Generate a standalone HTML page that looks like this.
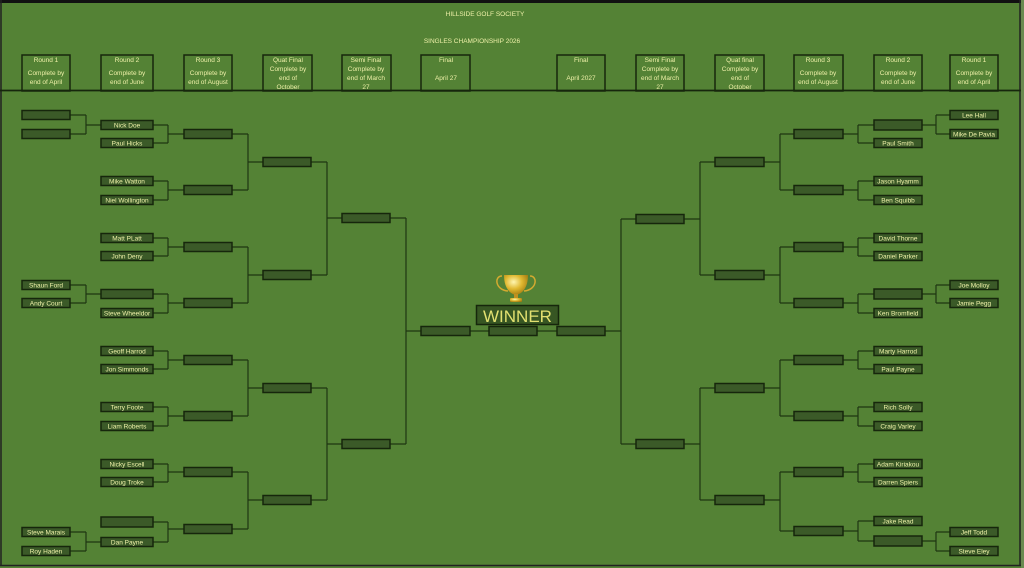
<!DOCTYPE html>
<html><head><meta charset="utf-8"><style>
html,body{margin:0;padding:0;background:#548235;}
svg{display:block;}
text{font-family:"Liberation Sans",sans-serif;fill:#eef0a8;}
.s{fill:#3b5a28;stroke:#16260c;stroke-width:1.5;}
.c{fill:none;stroke:#1e3512;stroke-width:1.2;}
.h{fill:#548235;stroke:#16260c;stroke-width:1.5;}
.t{font-size:6.5px;text-anchor:middle;}
.ht{font-size:6.5px;text-anchor:middle;}
</style></head><body>
<svg width="1024" height="568" viewBox="0 0 1024 568" xmlns="http://www.w3.org/2000/svg">
<rect x="0" y="0" width="1024" height="568" fill="#548235"/>
<rect x="0" y="0" width="1024" height="3" fill="#111"/>
<line x1="1" y1="0" x2="1" y2="566" stroke="#222" stroke-width="1.5"/>
<line x1="1020" y1="0" x2="1020" y2="566" stroke="#222" stroke-width="1.5"/>
<rect x="1021" y="0" width="3" height="568" fill="#6a8a50"/>
<line x1="0" y1="565.5" x2="1021" y2="565.5" stroke="#222" stroke-width="1.5"/>
<text class="ht" x="485" y="16">HILLSIDE GOLF SOCIETY</text>
<text class="ht" x="472" y="43">SINGLES CHAMPIONSHIP 2026</text>

<!-- header boxes -->
<g>
<rect class="h" x="22" y="55" width="48" height="36"/>
<text class="ht" x="46" y="62">Round 1</text><text class="ht" x="46" y="75">Complete by</text><text class="ht" x="46" y="84">end of April</text>
<rect class="h" x="101" y="55" width="52" height="36"/>
<text class="ht" x="127" y="62">Round 2</text><text class="ht" x="127" y="75">Complete by</text><text class="ht" x="127" y="84">end of June</text>
<rect class="h" x="184" y="55" width="48" height="36"/>
<text class="ht" x="208" y="62">Round 3</text><text class="ht" x="208" y="75">Complete by</text><text class="ht" x="208" y="84">end of August</text>
<rect class="h" x="263" y="55" width="49" height="36"/>
<text class="ht" x="288" y="62">Quat Final</text><text class="ht" x="288" y="71">Complete by</text><text class="ht" x="288" y="80">end of</text><text class="ht" x="288" y="89">October</text>
<rect class="h" x="342" y="55" width="49" height="36"/>
<text class="ht" x="366" y="62">Semi Final</text><text class="ht" x="366" y="71">Complete by</text><text class="ht" x="366" y="80">end of March</text><text class="ht" x="366" y="89">27</text>
<rect class="h" x="421" y="55" width="49" height="36"/>
<text class="ht" x="446" y="62">Final</text><text class="ht" x="446" y="80">April 27</text>
<rect class="h" x="557" y="55" width="48" height="36"/>
<text class="ht" x="581" y="62">Final</text><text class="ht" x="581" y="80">April 2027</text>
<rect class="h" x="636" y="55" width="48" height="36"/>
<text class="ht" x="660" y="62">Semi Final</text><text class="ht" x="660" y="71">Complete by</text><text class="ht" x="660" y="80">end of March</text><text class="ht" x="660" y="89">27</text>
<rect class="h" x="715" y="55" width="49" height="36"/>
<text class="ht" x="740" y="62">Quat final</text><text class="ht" x="740" y="71">Complete by</text><text class="ht" x="740" y="80">end of</text><text class="ht" x="740" y="89">October</text>
<rect class="h" x="794" y="55" width="49" height="36"/>
<text class="ht" x="818" y="62">Round 3</text><text class="ht" x="818" y="75">Complete by</text><text class="ht" x="818" y="84">end of August</text>
<rect class="h" x="874" y="55" width="48" height="36"/>
<text class="ht" x="898" y="62">Round 2</text><text class="ht" x="898" y="75">Complete by</text><text class="ht" x="898" y="84">end of June</text>
<rect class="h" x="950" y="55" width="48" height="36"/>
<text class="ht" x="974" y="62">Round 1</text><text class="ht" x="974" y="75">Complete by</text><text class="ht" x="974" y="84">end of April</text>
</g>
<line x1="0" y1="90.5" x2="1021" y2="90.5" stroke="#16260c" stroke-width="1.8"/>

<!-- connectors left -->
<path class="c" d="
M70 115H86M70 134H86M86 115V134M86 125H101
M70 285H86M70 303H86M86 285V303M86 294H101
M70 532H86M70 551H86M86 532V551M86 542H101
M152 125H168M152 143H168M168 125V143M168 134H184
M152 181H168M152 200H168M168 181V200M168 190H184
M152 238H168M152 256H168M168 238V256M168 247H184
M152 294H168M152 313H168M168 294V313M168 303H184
M152 351H168M152 369H168M168 351V369M168 360H184
M152 407H168M152 426H168M168 407V426M168 416H184
M152 464H168M152 482H168M168 464V482M168 472H184
M152 522H168M152 542H168M168 522V542M168 529H184
M232 134H248M232 190H248M248 134V190M248 162H263
M232 247H248M232 303H248M248 247V303M248 275H263
M232 360H248M232 416H248M248 360V416M248 388H263
M232 472H248M232 529H248M248 472V529M248 500H263
M311 162H327M311 275H327M327 162V275M327 218H342
M311 388H327M311 500H327M327 388V500M327 444H342
M390 218H406M390 444H406M406 218V444M406 331H421
M470 331H489M537 331H557
M950 115H936M950 134H936M936 115V134M936 125H922
M950 285H936M950 303H936M936 285V303M936 294H922
M950 532H936M950 551H936M936 532V551M936 541H922
M874 125H858M874 143H858M858 125V143M858 134H843
M874 181H858M874 200H858M858 181V200M858 190H843
M874 238H858M874 256H858M858 238V256M858 247H843
M874 294H858M874 313H858M858 294V313M858 303H843
M874 351H858M874 369H858M858 351V369M858 360H843
M874 407H858M874 426H858M858 407V426M858 416H843
M874 464H858M874 482H858M858 464V482M858 472H843
M874 521H858M874 541H858M858 521V541M858 531H843
M794 134H780M794 190H780M780 134V190M780 162H764
M794 247H780M794 303H780M780 247V303M780 275H764
M794 360H780M794 416H780M780 360V416M780 388H764
M794 472H780M794 531H780M780 472V531M780 500H764
M715 162H700M715 275H700M700 162V275M700 219H684
M715 388H700M715 500H700M700 388V500M700 444H684
M636 219H621M636 444H621M621 219V444M621 331H605
"/>

<!-- slots helper: rect width 48/51 height 9 -->
<g>
<!-- Left R1 -->
<rect class="s" x="22" y="110.5" width="48" height="9"/>
<rect class="s" x="22" y="129.5" width="48" height="9"/>
<rect class="s" x="22" y="280.5" width="48" height="9"/><text class="t" x="46" y="287.5">Shaun Ford</text>
<rect class="s" x="22" y="298.5" width="48" height="9"/><text class="t" x="46" y="305.5">Andy Court</text>
<rect class="s" x="22" y="527.5" width="48" height="9"/><text class="t" x="46" y="534.5">Steve Marais</text>
<rect class="s" x="22" y="546.5" width="48" height="9"/><text class="t" x="46" y="553.5">Roy Haden</text>
<!-- Left R2 -->
<rect class="s" x="101" y="120.5" width="52" height="9"/><text class="t" x="127" y="127.5">Nick Doe</text>
<rect class="s" x="101" y="138.5" width="52" height="9"/><text class="t" x="127" y="145.5">Paul Hicks</text>
<rect class="s" x="101" y="176.5" width="52" height="9"/><text class="t" x="127" y="183.5">Mike Watton</text>
<rect class="s" x="101" y="195.5" width="52" height="9"/><text class="t" x="127" y="202.5">Niel Wollington</text>
<rect class="s" x="101" y="233.5" width="52" height="9"/><text class="t" x="127" y="240.5">Matt PLatt</text>
<rect class="s" x="101" y="251.5" width="52" height="9"/><text class="t" x="127" y="258.5">John Deny</text>
<rect class="s" x="101" y="289.5" width="52" height="9"/>
<rect class="s" x="101" y="308.5" width="52" height="9"/><text class="t" x="127" y="315.5">Steve Wheeldor</text>
<rect class="s" x="101" y="346.5" width="52" height="9"/><text class="t" x="127" y="353.5">Geoff Harrod</text>
<rect class="s" x="101" y="364.5" width="52" height="9"/><text class="t" x="127" y="371.5">Jon Simmonds</text>
<rect class="s" x="101" y="402.5" width="52" height="9"/><text class="t" x="127" y="409.5">Terry Foote</text>
<rect class="s" x="101" y="421.5" width="52" height="9"/><text class="t" x="127" y="428.5">Liam Roberts</text>
<rect class="s" x="101" y="459.5" width="52" height="9"/><text class="t" x="127" y="466.5">Nicky Escell</text>
<rect class="s" x="101" y="477.5" width="52" height="9"/><text class="t" x="127" y="484.5">Doug Troke</text>
<rect class="s" x="101" y="517" width="52" height="10"/>
<rect class="s" x="101" y="537.5" width="52" height="9"/><text class="t" x="127" y="544.5">Dan Payne</text>
<!-- Left R3 -->
<rect class="s" x="184" y="129.5" width="48" height="9"/>
<rect class="s" x="184" y="185.5" width="48" height="9"/>
<rect class="s" x="184" y="242.5" width="48" height="9"/>
<rect class="s" x="184" y="298.5" width="48" height="9"/>
<rect class="s" x="184" y="355.5" width="48" height="9"/>
<rect class="s" x="184" y="411.5" width="48" height="9"/>
<rect class="s" x="184" y="467.5" width="48" height="9"/>
<rect class="s" x="184" y="524.5" width="48" height="9"/>
<!-- Left QF -->
<rect class="s" x="263" y="157.5" width="48" height="9"/>
<rect class="s" x="263" y="270.5" width="48" height="9"/>
<rect class="s" x="263" y="383.5" width="48" height="9"/>
<rect class="s" x="263" y="495.5" width="48" height="9"/>
<!-- Left SF -->
<rect class="s" x="342" y="213.5" width="48" height="9"/>
<rect class="s" x="342" y="439.5" width="48" height="9"/>
<!-- Finals -->
<rect class="s" x="421" y="326.5" width="49" height="9"/>
<rect class="s" x="489" y="326.5" width="48" height="9"/>
<rect class="s" x="557" y="326.5" width="48" height="9"/>
<!-- Right SF -->
<rect class="s" x="636" y="214.5" width="48" height="9"/>
<rect class="s" x="636" y="439.5" width="48" height="9"/>
<!-- Right QF -->
<rect class="s" x="715" y="157.5" width="49" height="9"/>
<rect class="s" x="715" y="270.5" width="49" height="9"/>
<rect class="s" x="715" y="383.5" width="49" height="9"/>
<rect class="s" x="715" y="495.5" width="49" height="9"/>
<!-- Right R3 -->
<rect class="s" x="794" y="129.5" width="49" height="9"/>
<rect class="s" x="794" y="185.5" width="49" height="9"/>
<rect class="s" x="794" y="242.5" width="49" height="9"/>
<rect class="s" x="794" y="298.5" width="49" height="9"/>
<rect class="s" x="794" y="355.5" width="49" height="9"/>
<rect class="s" x="794" y="411.5" width="49" height="9"/>
<rect class="s" x="794" y="467.5" width="49" height="9"/>
<rect class="s" x="794" y="526.5" width="49" height="9"/>
<!-- Right R2 -->
<rect class="s" x="874" y="120" width="48" height="10"/>
<rect class="s" x="874" y="138.5" width="48" height="9"/><text class="t" x="898" y="145.5">Paul Smith</text>
<rect class="s" x="874" y="176.5" width="48" height="9"/><text class="t" x="898" y="183.5">Jason Hyamm</text>
<rect class="s" x="874" y="195.5" width="48" height="9"/><text class="t" x="898" y="202.5">Ben Squibb</text>
<rect class="s" x="874" y="233.5" width="48" height="9"/><text class="t" x="898" y="240.5">David Thorne</text>
<rect class="s" x="874" y="251.5" width="48" height="9"/><text class="t" x="898" y="258.5">Daniel Parker</text>
<rect class="s" x="874" y="289" width="48" height="10"/>
<rect class="s" x="874" y="308.5" width="48" height="9"/><text class="t" x="898" y="315.5">Ken Bromfield</text>
<rect class="s" x="874" y="346.5" width="48" height="9"/><text class="t" x="898" y="353.5">Marty Harrod</text>
<rect class="s" x="874" y="364.5" width="48" height="9"/><text class="t" x="898" y="371.5">Paul Payne</text>
<rect class="s" x="874" y="402.5" width="48" height="9"/><text class="t" x="898" y="409.5">Rich Solly</text>
<rect class="s" x="874" y="421.5" width="48" height="9"/><text class="t" x="898" y="428.5">Craig Varley</text>
<rect class="s" x="874" y="459.5" width="48" height="9"/><text class="t" x="898" y="466.5">Adam Kiriakou</text>
<rect class="s" x="874" y="477.5" width="48" height="9"/><text class="t" x="898" y="484.5">Darren Spiers</text>
<rect class="s" x="874" y="516.5" width="48" height="9"/><text class="t" x="898" y="523.5">Jake Read</text>
<rect class="s" x="874" y="536" width="48" height="10"/>
<!-- Right R1 -->
<rect class="s" x="950" y="110.5" width="48" height="9"/><text class="t" x="974" y="117.5">Lee Hall</text>
<rect class="s" x="950" y="129.5" width="48" height="9"/><text class="t" x="974" y="136.5">Mike De Pavia</text>
<rect class="s" x="950" y="280.5" width="48" height="9"/><text class="t" x="974" y="287.5">Joe Molloy</text>
<rect class="s" x="950" y="298.5" width="48" height="9"/><text class="t" x="974" y="305.5">Jamie Pegg</text>
<rect class="s" x="950" y="527.5" width="48" height="9"/><text class="t" x="974" y="534.5">Jeff Todd</text>
<rect class="s" x="950" y="546.5" width="48" height="9"/><text class="t" x="974" y="553.5">Steve Eley</text>
</g>

<!-- trophy -->
<defs><radialGradient id="g" cx="0.4" cy="0.35" r="0.7"><stop offset="0" stop-color="#fff6b0"/><stop offset="0.5" stop-color="#e0b830"/><stop offset="1" stop-color="#a07810"/></radialGradient></defs>
<path d="M502 276 C494 276 495 290 508 291 M530 276 C538 276 537 290 524 291" fill="none" stroke="#d4aa30" stroke-width="1.5"/>
<path d="M504 275 H528 C528 288 522 294 516 295 C510 294 504 288 504 275Z" fill="url(#g)"/>
<rect x="514" y="294" width="4" height="4" fill="#c09020"/>
<rect x="510" y="298" width="12" height="4" rx="1" fill="url(#g)"/>
<rect x="476.5" y="305.5" width="82" height="19" fill="#375623" stroke="#16260c" stroke-width="1.5"/>
<text x="517.5" y="322" style="font-size:17px;text-anchor:middle;fill:#e2e070;">WINNER</text>
</svg>
</body></html>
